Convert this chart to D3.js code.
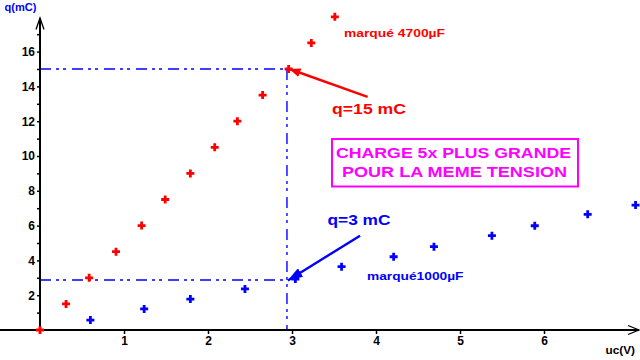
<!DOCTYPE html>
<html>
<head>
<meta charset="utf-8">
<script type="text/javascript" src="https://d3js.org/d3.v7.min.js"></script>
<title>Charge d'un condensateur</title>
<style>
body { margin:0; background:#fff; }
text { font-family: "Liberation Sans", Arial, sans-serif; font-weight: bold; }
</style>
</head>
<body>
<div id="chart"></div>
<script type="text/javascript">
// 4700 uF capacitor (red)
var redU = [0, 0.31, 0.585, 0.905, 1.21, 1.49, 1.79, 2.08, 2.35, 2.65, 2.96, 3.23, 3.51];
var redQ = [0, 1.5, 3, 4.5, 6, 7.5, 9, 10.5, 12, 13.5, 15, 16.5, 18];
// 1000 uF capacitor (blue)
var blueU = [0.6, 1.24, 1.79, 2.44, 3.04, 3.59, 4.21, 4.69, 5.38, 5.89, 6.52, 7.09];
var blueQ = [0.57, 1.21, 1.78, 2.36, 2.93, 3.64, 4.21, 4.79, 5.42, 5.99, 6.65, 7.18];

var xTicks = [1, 2, 3, 4, 5, 6];
var yTicks = [2, 4, 6, 8, 10, 12, 14, 16];
var yMinor = [1, 3, 5, 7, 9, 11, 13, 15, 17];

// reading lines at the same tension
var refU = 2.94;
var refQ = [15, 2.87];

(function(){

var w = 640, h = 360;

var x = d3.scaleLinear().domain([0, 7]).range([40, 628]);
var y = d3.scaleLinear().domain([0, 18]).range([330, 16.8]);

var svg = d3.select("#chart").append("svg")
    .attr("width", w).attr("height", h);

var defs = svg.append("defs");
function arrowMarker(id, col, len, wid) {
  defs.append("marker")
      .attr("id", id)
      .attr("markerUnits", "userSpaceOnUse")
      .attr("viewBox", "0 0 " + len + " " + wid)
      .attr("refX", len).attr("refY", wid / 2)
      .attr("markerWidth", len).attr("markerHeight", wid)
      .attr("orient", "auto")
    .append("path")
      .attr("d", "M0,0L" + len + "," + (wid / 2) + "L0," + wid + "Z")
      .attr("fill", col);
}
arrowMarker("arRed", "#ff0000", 11, 9);
arrowMarker("arBlue", "#0000ff", 15, 10);

// dash-dot reading lines
var dash = "11,5,3,4,3,6";
svg.selectAll(".ref")
    .data(refQ)
    .enter().append("line")
    .attr("x1", x(0)).attr("x2", x(refU))
    .attr("y1", function(d) { return y(d); })
    .attr("y2", function(d) { return y(d); })
    .attr("stroke", "#0000ff").attr("stroke-width", 1.4)
    .attr("stroke-dasharray", dash);
svg.append("line")
    .attr("x1", x(refU)).attr("x2", x(refU))
    .attr("y1", y(refQ[0])).attr("y2", y(0))
    .attr("stroke", "#0000ff").attr("stroke-width", 1.4)
    .attr("stroke-dasharray", dash);

// axes
var xAxis = d3.axisBottom(x).tickValues(xTicks).tickSize(4).tickPadding(2)
    .tickFormat(d3.format("d"));
var gx = svg.append("g").attr("transform", "translate(0," + y(0) + ")").call(xAxis);
gx.select(".domain").remove();

var yAxis = d3.axisLeft(y).tickValues(yTicks).tickSize(3).tickPadding(2)
    .tickFormat(d3.format("d"));
var gy = svg.append("g").attr("transform", "translate(" + x(0) + ",0)").call(yAxis);
gy.select(".domain").remove();
var gym = svg.append("g").attr("transform", "translate(" + x(0) + ",0)")
    .call(d3.axisLeft(y).tickValues(yMinor).tickSize(3).tickFormat(""));
gym.select(".domain").remove();

svg.selectAll(".tick line").attr("stroke", "#000").attr("stroke-width", 1.5);
svg.selectAll(".tick text")
    .attr("fill", "#000")
    .style("font-family", "'Liberation Sans', Arial, sans-serif")
    .style("font-weight", "bold").style("font-size", "12px");

svg.append("line")
    .attr("x1", 0).attr("x2", 639).attr("y1", y(0)).attr("y2", y(0))
    .attr("stroke", "#000").attr("stroke-width", 2);
svg.append("path")
    .attr("d", "M628,325.5L639,330L628,334.5")
    .attr("fill", "none").attr("stroke", "#000").attr("stroke-width", 1.3);
svg.append("line")
    .attr("x1", x(0)).attr("x2", x(0)).attr("y1", y(0)).attr("y2", 18)
    .attr("stroke", "#000").attr("stroke-width", 2);
svg.append("path")
    .attr("d", "M36,29.5L40,18L44,29.5")
    .attr("fill", "none").attr("stroke", "#000").attr("stroke-width", 1.3);

svg.append("text").attr("x", 4.5).attr("y", 10.5)
    .attr("fill", "#0000ff").style("font-size", "11px")
    .attr("textLength", 32).attr("lengthAdjust", "spacingAndGlyphs")
    .text("q(mC)");
svg.append("text").attr("x", 605.5).attr("y", 354)
    .attr("fill", "#000").style("font-size", "11px")
    .attr("textLength", 29.5).attr("lengthAdjust", "spacingAndGlyphs")
    .text("uc(V)");

// points
var cross = "M-4,0H4M0,-4V4";
function plot(us, qs, col) {
  svg.selectAll(null)
      .data(us)
      .enter().append("path")
      .attr("transform", function(d, i) { return "translate(" + x(d) + "," + y(qs[i]) + ")"; })
      .attr("d", cross)
      .attr("stroke", col).attr("stroke-width", 2.8).attr("fill", "none");
}
plot(redU, redQ, "#ff0000");
plot(blueU, blueQ, "#0000ff");

// annotations
svg.append("line")
    .attr("x1", x(3.9)).attr("y1", y(13.4))
    .attr("x2", x(2.97)).attr("y2", y(15))
    .attr("stroke", "#ff0000").attr("stroke-width", 2.4)
    .attr("marker-end", "url(#arRed)");
svg.append("line")
    .attr("x1", x(3.81)).attr("y1", y(5.42))
    .attr("x2", x(2.95)).attr("y2", y(2.85))
    .attr("stroke", "#0000ff").attr("stroke-width", 2.4)
    .attr("marker-end", "url(#arBlue)");

function label(t, px, py, size, len, col) {
  svg.append("text").attr("x", px).attr("y", py)
      .attr("fill", col).style("font-size", size + "px")
      .attr("textLength", len).attr("lengthAdjust", "spacingAndGlyphs")
      .text(t);
}
label("marqué 4700µF", 344, 36.5, 11.5, 101, "#ff0000");
label("q=15 mC", 332, 114, 15.5, 74, "#ff0000");
label("q=3 mC", 327.5, 224.5, 15.5, 63, "#0000ff");
label("marqué1000µF", 367, 280, 11.5, 96.5, "#0000ff");

svg.append("rect")
    .attr("x", 332).attr("y", 139).attr("width", 246).attr("height", 47.5)
    .attr("fill", "none").attr("stroke", "#ff00ff").attr("stroke-width", 2);
label("CHARGE 5x PLUS GRANDE", 336, 157.5, 15, 235, "#ff00ff");
label("POUR LA MEME TENSION", 342, 177, 15, 225, "#ff00ff");

})();
</script>
</body>
</html>
